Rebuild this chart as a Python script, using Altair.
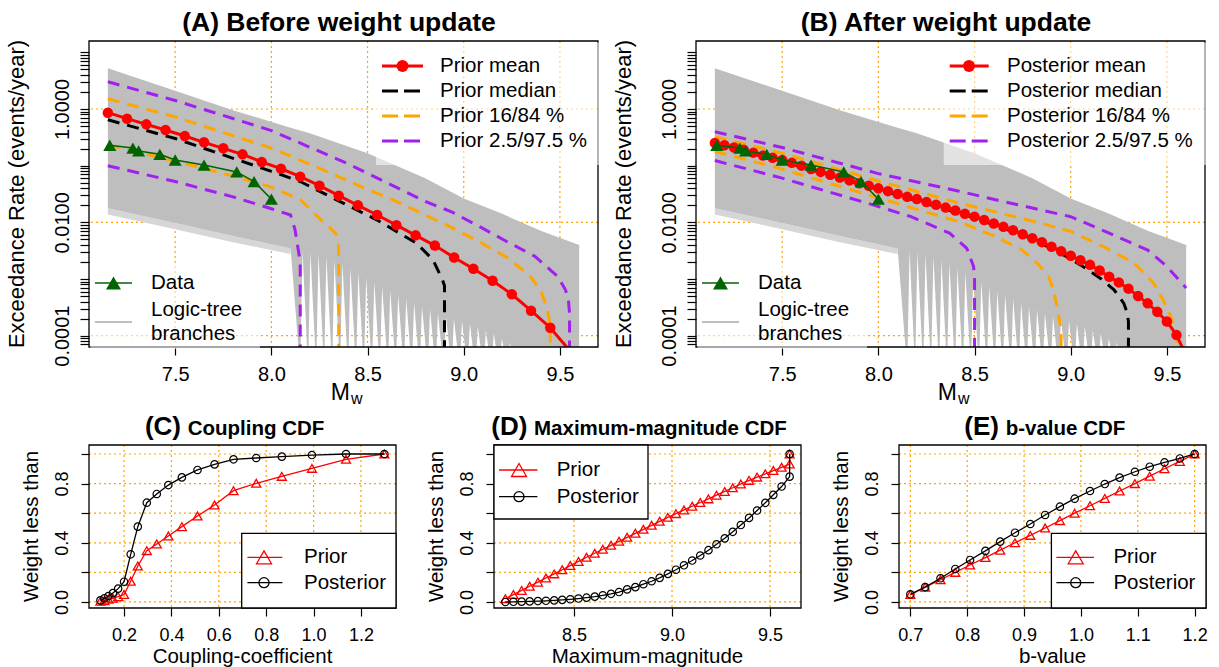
import altair as alt
import pandas as pd

FONT = "Liberation Sans"
RED = "#FF0000"
ORANGE = "#FFA500"
PURPLE = "#A020F0"
GREEN = "#006400"
GRAY = "#BEBEBE"
FAINT = "#D6D6D6"

# ================= values =================
# observed exceedance rates (green triangles), log10 of events/year
data_m = [7.16, 7.28, 7.31, 7.42, 7.50, 7.65, 7.82, 7.91, 8.00]
data_log10 = [-0.64, -0.69, -0.74, -0.80, -0.90, -0.99, -1.11, -1.28, -1.59]

# logic-tree fan envelope (log10)
fan_m = [7.15, 7.5, 7.8, 8.1, 8.2, 8.5, 8.8, 9.0, 9.2, 9.4, 9.6]
fan_upper_log10 = [0.72, 0.32, -0.02, -0.33, -0.43, -0.78, -1.22, -1.58, -1.85, -2.15, -2.40]
fan_lower_log10 = [-1.75, -2.01, -2.24, -2.46, -2.46, -2.46, -2.46, -2.46, -2.46, -2.46, -2.46]
# faint low-weight branches just below the solid lower edge
faint_m = [7.15, 7.5, 7.8, 8.1]
faint_lower_log10 = [-1.86, -2.12, -2.35, -2.56]

# maximum-magnitude branches (also x of panel D) and the top of the white gap after each truncation
branch_mmax = [8.150, 8.191, 8.233, 8.274, 8.316, 8.357, 8.399, 8.440, 8.481, 8.523,
               8.564, 8.606, 8.647, 8.689, 8.730, 8.771, 8.813, 8.854, 8.896, 8.937,
               8.979, 9.020, 9.061, 9.103, 9.144, 9.186, 9.227, 9.269, 9.310, 9.351,
               9.393, 9.434, 9.476, 9.517, 9.559, 9.600]
tooth_gap_log10 = [-2.50, -2.52, -2.56, -2.60, -2.66, -2.72, -2.80, -2.88, -2.97, -3.05,
                   -3.13, -3.21, -3.28, -3.35, -3.42, -3.48, -3.54, -3.60, -3.66, -3.70,
                   -3.74, -3.78, -3.84, -3.90, -3.96, -4.04, -4.12, -4.20, -4.30, -4.30,
                   -4.30, -4.30, -4.30, -4.30, -4.30, -4.30]

# ---- panel A: prior statistics ----
prior_mean_m = [7.15, 7.25, 7.35, 7.45, 7.55, 7.65, 7.75, 7.85, 7.95, 8.05, 8.15, 8.25,
                8.35, 8.45, 8.55, 8.65, 8.75, 8.85, 8.95, 9.05, 9.15, 9.25, 9.35, 9.45]
prior_mean_log10 = [-0.065, -0.171, -0.271, -0.371, -0.476, -0.588, -0.694, -0.80, -0.935, -1.053,
                    -1.194, -1.353, -1.529, -1.70, -1.87, -2.05, -2.23, -2.41, -2.62, -2.82,
                    -3.03, -3.27, -3.56, -3.86]
prior_mean_end = (9.56, -4.30)
prior_median_m = [7.15, 7.5, 8.0, 8.15, 8.39, 8.55, 8.65, 8.755, 8.84, 8.89, 8.9, 8.9]
prior_median_log10 = [-0.19, -0.52, -1.10, -1.28, -1.69, -1.96, -2.16, -2.37, -2.66, -3.02, -3.12, -5.0]
prior_p84_m = [7.15, 7.5, 8.0, 8.3, 8.5, 8.63, 8.78, 8.93, 9.09, 9.23, 9.345, 9.40, 9.43, 9.445, 9.45, 9.45]
prior_p84_log10 = [0.18, -0.14, -0.69, -1.12, -1.42, -1.60, -1.84, -2.08, -2.36, -2.63, -2.95, -3.20,
                   -3.49, -3.72, -3.90, -5.0]
prior_p975_m = [7.15, 7.5, 8.0, 8.4, 8.8, 8.94, 9.09, 9.23, 9.37, 9.49, 9.53, 9.545, 9.55, 9.55]
prior_p975_log10 = [0.48, 0.15, -0.38, -0.97, -1.63, -1.82, -2.09, -2.35, -2.60, -2.96, -3.20, -3.40, -3.60, -5.0]
prior_p16_m = [7.15, 7.5, 7.8, 8.0, 8.15, 8.2, 8.25, 8.3, 8.335, 8.348, 8.35, 8.35]
prior_p16_log10 = [-0.635, -0.92, -1.18, -1.38, -1.60, -1.76, -1.93, -2.08, -2.20, -2.36, -2.50, -5.0]
prior_p025_m = [7.15, 7.5, 7.8, 8.0, 8.1, 8.123, 8.14, 8.15, 8.15]
prior_p025_log10 = [-1.00, -1.28, -1.55, -1.76, -1.87, -2.13, -2.49, -2.70, -5.0]

# ---- panel B: posterior statistics ----
post_mean_m = [7.15, 7.20, 7.25, 7.30, 7.35, 7.40, 7.45, 7.50, 7.55, 7.60, 7.65, 7.70, 7.75,
               7.80, 7.85, 7.90, 7.95, 8.00, 8.05, 8.10, 8.15, 8.20, 8.25, 8.30, 8.35, 8.40,
               8.45, 8.50, 8.55, 8.60, 8.65, 8.70, 8.75, 8.80, 8.85, 8.90, 8.95, 9.00, 9.05,
               9.10, 9.15, 9.20, 9.25, 9.30, 9.35, 9.40, 9.45, 9.50, 9.55]
post_mean_log10 = [-0.60, -0.64, -0.68, -0.72, -0.77, -0.82, -0.86, -0.90, -0.95, -1.00, -1.06,
                   -1.11, -1.16, -1.21, -1.26, -1.31, -1.355, -1.40, -1.45, -1.50, -1.55, -1.59,
                   -1.64, -1.69, -1.74, -1.79, -1.85, -1.90, -1.96, -2.02, -2.08, -2.14, -2.21,
                   -2.28, -2.35, -2.43, -2.51, -2.59, -2.67, -2.75, -2.85, -2.96, -3.06, -3.17,
                   -3.30, -3.43, -3.58, -3.75, -3.99]
post_mean_end = (9.60, -4.35)
post_median_m = [7.15, 7.5, 8.0, 8.5, 8.8, 8.95, 9.05, 9.155, 9.225, 9.276, 9.294, 9.30, 9.30]
post_median_log10 = [-0.62, -0.92, -1.42, -1.92, -2.29, -2.55, -2.75, -2.99, -3.19, -3.43, -3.60, -3.75, -5.0]
post_p84_m = [7.15, 7.5, 8.0, 8.42, 8.85, 9.0, 9.17, 9.33, 9.43, 9.48, 9.52, 9.55, 9.56, 9.56]
post_p84_log10 = [-0.49, -0.78, -1.27, -1.66, -2.02, -2.16, -2.43, -2.72, -3.07, -3.37, -3.66, -4.00, -4.25, -5.0]
post_p975_m = [7.15, 7.5, 8.0, 8.42, 8.62, 9.0, 9.2, 9.4, 9.5, 9.6]
post_p975_log10 = [-0.40, -0.68, -1.14, -1.45, -1.61, -1.90, -2.19, -2.49, -2.78, -3.16]
post_p16_m = [7.15, 7.5, 8.0, 8.42, 8.6, 8.74, 8.825, 8.886, 8.91, 8.93, 8.945, 8.95, 8.95]
post_p16_log10 = [-0.75, -1.06, -1.57, -1.99, -2.24, -2.47, -2.72, -2.96, -3.19, -3.50, -3.80, -4.00, -5.0]
post_p025_m = [7.15, 7.5, 8.0, 8.17, 8.37, 8.46, 8.495, 8.5, 8.5]
post_p025_log10 = [-0.91, -1.22, -1.72, -1.90, -2.19, -2.46, -2.78, -3.00, -5.0]

# ---- panel C: coupling CDF ----
coup_x = [0.100, 0.117, 0.134, 0.153, 0.175, 0.200, 0.228, 0.258, 0.296, 0.338,
          0.387, 0.444, 0.510, 0.582, 0.662, 0.758, 0.866, 0.993, 1.137, 1.299]
coup_prior = [0.005, 0.009, 0.018, 0.025, 0.036, 0.05, 0.14, 0.243, 0.347, 0.392,
              0.446, 0.509, 0.581, 0.655, 0.752, 0.802, 0.849, 0.903, 0.964, 1.0]
coup_post = [0.011, 0.025, 0.04, 0.06, 0.09, 0.137, 0.322, 0.509, 0.671, 0.73,
             0.79, 0.842, 0.892, 0.93, 0.964, 0.973, 0.982, 0.993, 1.0, 1.0]

# ---- panel D: maximum-magnitude CDF (last point repeats 9.6) ----
mmax_x = branch_mmax + [9.600]
mmax_prior = [0.022, 0.050, 0.078, 0.106, 0.134, 0.162, 0.190, 0.218, 0.246, 0.274,
              0.302, 0.329, 0.356, 0.383, 0.410, 0.437, 0.464, 0.491, 0.518, 0.545,
              0.572, 0.597, 0.622, 0.647, 0.672, 0.697, 0.722, 0.747, 0.772, 0.797,
              0.822, 0.844, 0.866, 0.888, 0.910, 0.932, 1.000]
mmax_post = [0.000, 0.001, 0.002, 0.004, 0.006, 0.008, 0.011, 0.014, 0.018, 0.023,
             0.029, 0.036, 0.045, 0.055, 0.067, 0.085, 0.100, 0.120, 0.140, 0.163,
             0.190, 0.218, 0.248, 0.280, 0.314, 0.350, 0.390, 0.430, 0.474, 0.520,
             0.568, 0.618, 0.670, 0.724, 0.780, 0.847, 1.000]

# ---- panel E: b-value CDF ----
bval_x = [0.700, 0.726, 0.753, 0.779, 0.805, 0.832, 0.858, 0.884, 0.911, 0.937,
          0.963, 0.989, 1.016, 1.042, 1.068, 1.095, 1.121, 1.147, 1.174, 1.200]
bval_prior = [0.05, 0.10, 0.15, 0.20, 0.25, 0.30, 0.35, 0.40, 0.45, 0.50,
              0.55, 0.60, 0.65, 0.70, 0.75, 0.80, 0.85, 0.90, 0.95, 1.00]
bval_post = [0.052, 0.10, 0.16, 0.223, 0.284, 0.345, 0.408, 0.468, 0.527, 0.588,
             0.644, 0.698, 0.75, 0.797, 0.84, 0.88, 0.914, 0.943, 0.97, 1.0]

# ---- ticks ----
top_x_ticks = [7.5, 8.0, 8.5, 9.0, 9.5]
top_y_grid = [1.0, 0.01, 0.0001]
TOP_Y_TICKS = [m * 10.0 ** e for e in range(-5, 2) for m in range(1, 10)
               if 10 ** -4.2 <= m * 10.0 ** e <= 10 ** 1.2]
coup_ticks = [0.2, 0.4, 0.6, 0.8, 1.0, 1.2]
mmax_ticks = [8.5, 9.0, 9.5]
bval_ticks = [0.7, 0.8, 0.9, 1.0, 1.1, 1.2]
weight_ticks = [0.0, 0.2, 0.4, 0.6, 0.8, 1.0]

# ================= layout / style =================
TOP_W, TOP_H = 509, 306
BOT_W, BOT_H = 307, 163
LEFT, TOP = 89, 41            # plot origin of panel A in the page
ROW_GAP_TOP = 370             # bottom bound of the top row (relative to its plot origin)
ROW_GAP_BOT = 34              # top bound of the bottom row (above its plot origin)
DASH = [12, 8]
LEG_DASH = [16, 6]
GRID_DASH = [2, 3]
LEG_ALPHA = 0.55
BOTTOM_OUT = -4.6
TEETH_TOP = -2.40
TOOTH_OFFSET = 0.012

YEXPR = ("(abs(log(datum.value)/LN10 - round(log(datum.value)/LN10)) < 1e-6 && "
         "round(log(datum.value)/LN10) % 2 == 0) ? format(datum.value, '.4f') : ''")
WEXPR = ("(datum.value < 0.01 || abs(datum.value - 0.4) < 0.01 || abs(datum.value - 0.8) < 0.01)"
         " ? format(datum.value, '.1f') : ''")

ONE = pd.DataFrame({"k": [0]})


def rates(logs):
    return [10.0 ** v for v in logs]


def series(m, logs):
    return pd.DataFrame({"x": m, "y": rates(logs), "i": list(range(len(m)))})


def txt(s, x, y, size, bold=False, align="left", baseline="middle", angle=0):
    kw = dict(text=s, font=FONT, fontSize=size, color="black", align=align, baseline=baseline)
    if bold:
        kw["fontWeight"] = "bold"
    if angle:
        kw["angle"] = angle
    return alt.Chart(ONE).mark_text(**kw).encode(x=alt.value(x), y=alt.value(y))


def seg(x0, x1, y, color, width, dash=None):
    kw = dict(color=color, strokeWidth=width)
    if dash:
        kw["strokeDash"] = dash
    return alt.Chart(ONE).mark_rule(**kw).encode(x=alt.value(x0), x2=alt.value(x1), y=alt.value(y))


def sym(x, y, shape, size, color, filled, sw=1.3):
    return alt.Chart(ONE).mark_point(shape=shape, size=size, color=color, filled=filled,
                                     opacity=1, strokeWidth=sw).encode(x=alt.value(x), y=alt.value(y))


def box(x0, x1, y0, y1, opacity=1.0, stroke=None, sw=1.0):
    kw = dict(fill="white", fillOpacity=opacity)
    if stroke:
        kw.update(stroke=stroke, strokeWidth=sw)
    return alt.Chart(ONE).mark_rect(**kw).encode(
        x=alt.value(x0), x2=alt.value(x1), y=alt.value(y0), y2=alt.value(y1))


def top_panel(title, mean_m, mean_log, mean_end, dashed, labels, lg, anchor=False):
    xs = alt.Scale(domain=[7.052, 9.698], nice=False, zero=False)
    ys = alt.Scale(type="log", domain=[10 ** -4.2, 10 ** 1.2], nice=False)
    xax = alt.Axis(values=top_x_ticks, format=".1f", title=None, grid=False, domain=False,
                   tickSize=8, labelFontSize=20, labelPadding=9, labelFlush=False, labelOverlap=False)
    yax = alt.Axis(values=TOP_Y_TICKS, labelExpr=YEXPR, title=None, grid=False, domain=False,
                   tickSize=9, labelFontSize=20, labelAngle=270, labelAlign="center",
                   labelBaseline="bottom", labelPadding=8, labelFlush=False, labelOverlap=False)
    X = alt.X("x:Q", scale=xs, axis=xax)
    Y = alt.Y("y:Q", scale=ys, axis=yax)

    L = []
    L.append(alt.Chart(pd.DataFrame({"x": top_x_ticks})).mark_rule(
        color=ORANGE, strokeDash=GRID_DASH, strokeWidth=1.2).encode(x=X))
    L.append(alt.Chart(pd.DataFrame({"y": top_y_grid})).mark_rule(
        color=ORANGE, strokeDash=GRID_DASH, strokeWidth=1.2).encode(y=Y))

    faint = pd.DataFrame({"x": faint_m, "y": rates(fan_lower_log10[:len(faint_m)]),
                          "y2": rates(faint_lower_log10)})
    L.append(alt.Chart(faint).mark_area(color=FAINT, clip=True).encode(x=X, y=Y, y2="y2:Q"))
    fan = pd.DataFrame({"x": fan_m, "y": rates(fan_upper_log10), "y2": rates(fan_lower_log10)})
    L.append(alt.Chart(fan).mark_area(color=GRAY, clip=True).encode(x=X, y=Y, y2="y2:Q"))
    tx, ty = [fan_m[3]], [10.0 ** fan_lower_log10[3]]
    for k, (mk, gk) in enumerate(zip(branch_mmax, tooth_gap_log10)):
        tx.append(mk)
        ty.append(10.0 ** BOTTOM_OUT)
        if k < len(branch_mmax) - 1:
            tx.append(mk + TOOTH_OFFSET)
            ty.append(10.0 ** gk)
    teeth = pd.DataFrame({"x": tx, "y": [10.0 ** TEETH_TOP] * len(tx), "y2": ty})
    L.append(alt.Chart(teeth).mark_area(color=GRAY, clip=True).encode(x=X, y=Y, y2="y2:Q"))

    for m, lgv, color in dashed:
        L.append(alt.Chart(series(m, lgv)).mark_line(color=color, strokeWidth=3, strokeDash=DASH,
                                                     clip=True).encode(x=X, y=Y, order="i:Q"))
    L.append(alt.Chart(series(mean_m + [mean_end[0]], mean_log + [mean_end[1]])).mark_line(
        color=RED, strokeWidth=3, clip=True).encode(x=X, y=Y, order="i:Q"))
    L.append(alt.Chart(series(mean_m, mean_log)).mark_point(
        shape="circle", filled=True, size=110, color=RED, opacity=1).encode(x=X, y=Y))
    L.append(alt.Chart(series(data_m, data_log10)).mark_line(
        color=GREEN, strokeWidth=1.5).encode(x=X, y=Y, order="i:Q"))
    L.append(alt.Chart(series(data_m, data_log10)).mark_point(
        shape="triangle-up", filled=True, size=170, color=GREEN, opacity=1).encode(x=X, y=Y))

    L.append(box(0, TOP_W, 0, TOP_H, opacity=0, stroke="black", sw=1.3))
    L.append(box(lg["bg"], TOP_W + 2, 1.5, 124, opacity=LEG_ALPHA))
    L.append(box(1.5, 171, 224, TOP_H + 2, opacity=LEG_ALPHA))

    rows = [25, 50, 75, 100]
    L.append(seg(lg["l0"], lg["l1"], rows[0], RED, 3))
    L.append(sym(lg["s"], rows[0], "circle", 144, RED, True))
    for r, color in zip(rows[1:], ["black", ORANGE, PURPLE]):
        L.append(seg(lg["l0"], lg["l1"], r, color, 3, LEG_DASH))
    for r, lab in zip(rows, labels):
        L.append(txt(lab, lg["t"], r, 20.5))

    L.append(seg(6, 43, 242, GREEN, 1.5))
    L.append(sym(24.5, 242, "triangle-up", 225, GREEN, True))
    L.append(txt("Data", 62, 242, 20.5))
    L.append(seg(6, 43, 281, GRAY, 2))
    L.append(txt("Logic-tree", 62, 269, 20.5))
    L.append(txt("branches", 62, 293, 20.5))

    L.append(txt(title, 250, -10, 26.5, bold=True, align="center", baseline="alphabetic"))
    L.append(txt("Exceedance Rate (events/year)", -72, TOP_H / 2, 22, align="center", angle=270))
    L.append(txt("M", 241.7, 359, 23, baseline="alphabetic"))
    L.append(txt("w", 262, 363, 16, baseline="alphabetic"))
    if anchor:
        # invisible corner markers fixing the layout bounds of the row
        L.append(box(-LEFT, -LEFT + 1, -TOP, -TOP + 1))
        L.append(box(-LEFT, -LEFT + 1, ROW_GAP_TOP - 1, ROW_GAP_TOP))
    return alt.layer(*L).properties(width=TOP_W, height=TOP_H)


def cdf_panel(xv, prior, post, dom, ticks, letter, name, letter_right, name_left, xtitle, lg,
              anchor=False):
    xs = alt.Scale(domain=dom, nice=False, zero=False)
    ys = alt.Scale(domain=[-0.0408, 1.0608], nice=False, zero=False)
    xax = alt.Axis(values=ticks, format=".1f", title=None, grid=False, domain=False, tickSize=8,
                   labelFontSize=18, labelPadding=10, labelFlush=False, labelOverlap=False)
    yax = alt.Axis(values=weight_ticks, labelExpr=WEXPR, title=None, grid=False, domain=False,
                   tickSize=8, labelFontSize=18, labelAngle=270, labelAlign="center",
                   labelBaseline="bottom", labelPadding=10, labelFlush=False, labelOverlap=False)
    X = alt.X("x:Q", scale=xs, axis=xax)
    Y = alt.Y("y:Q", scale=ys, axis=yax)
    L = []
    L.append(alt.Chart(pd.DataFrame({"x": ticks})).mark_rule(
        color=ORANGE, strokeDash=GRID_DASH, strokeWidth=1.2).encode(x=X))
    L.append(alt.Chart(pd.DataFrame({"y": weight_ticks})).mark_rule(
        color=ORANGE, strokeDash=GRID_DASH, strokeWidth=1.2).encode(y=Y))
    dfp = pd.DataFrame({"x": xv, "y": prior, "i": list(range(len(xv)))})
    dfq = pd.DataFrame({"x": xv, "y": post, "i": list(range(len(xv)))})
    L.append(alt.Chart(dfp).mark_line(color=RED, strokeWidth=1.3).encode(x=X, y=Y, order="i:Q"))
    L.append(alt.Chart(dfp).mark_point(shape="triangle-up", size=81, color=RED, filled=False,
                                       strokeWidth=1.3, opacity=1).encode(x=X, y=Y))
    L.append(alt.Chart(dfq).mark_line(color="black", strokeWidth=1.3).encode(x=X, y=Y, order="i:Q"))
    L.append(alt.Chart(dfq).mark_point(shape="circle", size=55, color="black", filled=False,
                                       strokeWidth=1.2, opacity=1).encode(x=X, y=Y))
    L.append(box(0, BOT_W, 0, BOT_H, opacity=0, stroke="black", sw=1.3))
    L.append(box(lg["bx0"], lg["bx1"], lg["by0"], lg["by1"], opacity=1, stroke="black", sw=1.3))
    L.append(seg(lg["l0"], lg["l1"], lg["r1"], RED, 1.3))
    L.append(sym(lg["s"], lg["r1"], "triangle-up", 225, RED, False))
    L.append(txt("Prior", lg["t"], lg["r1"], 20.5))
    L.append(seg(lg["l0"], lg["l1"], lg["r2"], "black", 1.3))
    L.append(sym(lg["s"], lg["r2"], "circle", 100, "black", False))
    L.append(txt("Posterior", lg["t"], lg["r2"], 20.5))
    L.append(txt(letter, letter_right, -10, 26, bold=True, align="right", baseline="alphabetic"))
    L.append(txt(name, name_left, -10, 20.5, bold=True, align="left", baseline="alphabetic"))
    L.append(txt(xtitle, BOT_W / 2, 218, 20.5, align="center", baseline="alphabetic"))
    L.append(txt("Weight less than", -57, BOT_H / 2, 20.5, align="center", angle=270))
    if anchor:
        L.append(box(-LEFT, -LEFT + 1, -ROW_GAP_BOT, -ROW_GAP_BOT + 1))
    return alt.layer(*L).properties(width=BOT_W, height=BOT_H)


A = top_panel(
    "(A) Before weight update", prior_mean_m, prior_mean_log10, prior_mean_end,
    [(prior_p025_m, prior_p025_log10, PURPLE), (prior_p975_m, prior_p975_log10, PURPLE),
     (prior_p16_m, prior_p16_log10, ORANGE), (prior_p84_m, prior_p84_log10, ORANGE),
     (prior_median_m, prior_median_log10, "black")],
    ["Prior mean", "Prior median", "Prior 16/84 %", "Prior 2.5/97.5 %"],
    dict(bg=287, l0=293, l1=334, s=313.5, t=351), anchor=True)

B = top_panel(
    "(B) After weight update", post_mean_m, post_mean_log10, post_mean_end,
    [(post_p025_m, post_p025_log10, PURPLE), (post_p975_m, post_p975_log10, PURPLE),
     (post_p16_m, post_p16_log10, ORANGE), (post_p84_m, post_p84_log10, ORANGE),
     (post_median_m, post_median_log10, "black")],
    ["Posterior mean", "Posterior median", "Posterior 16/84 %", "Posterior 2.5/97.5 %"],
    dict(bg=247.7, l0=253.7, l1=292.7, s=273, t=311))

LEG_BR_C = dict(bx0=152.7, bx1=BOT_W, by0=88.3, by1=BOT_H, l0=158.4, l1=193.4, s=175, t=215, r1=112.3, r2=137.7)
LEG_TL_D = dict(bx0=0, bx1=154, by0=0, by1=74, l0=5, l1=43.4, s=25, t=62.7, r1=25, r2=51.7)
LEG_BR_E = dict(bx0=152.4, bx1=BOT_W, by0=88.3, by1=BOT_H, l0=157.4, l1=195, s=176.7, t=214.4, r1=112.3, r2=137.7)

C = cdf_panel(coup_x, coup_prior, coup_post, [0.052, 1.348], coup_ticks,
              "(C)", "Coupling CDF", 92, 98.7, "Coupling-coefficient", LEG_BR_C, anchor=True)
D = cdf_panel(mmax_x, mmax_prior, mmax_post, [8.092, 9.658], mmax_ticks,
              "(D)", "Maximum-magnitude CDF", 33.4, 40, "Maximum-magnitude", LEG_TL_D)
E = cdf_panel(bval_x, bval_prior, bval_post, [0.68, 1.22], bval_ticks,
              "(E)", "b-value CDF", 100, 106.7, "b-value", LEG_BR_E)

top = alt.hconcat(A, B, spacing=98, bounds="flush")
bottom = alt.hconcat(C, D, E, spacing=98, bounds="flush")
spacing_v = (TOP + TOP_H + 98 - ROW_GAP_BOT) - (TOP + ROW_GAP_TOP)
chart = alt.vconcat(top, bottom, spacing=spacing_v).properties(padding=0, background="white")
chart = chart.configure_view(stroke=None).configure_axis(
    labelFont=FONT, labelColor="black", tickColor="black", tickWidth=1.2)

chart.save("out.html", embed_options={"renderer": "svg", "actions": False})
